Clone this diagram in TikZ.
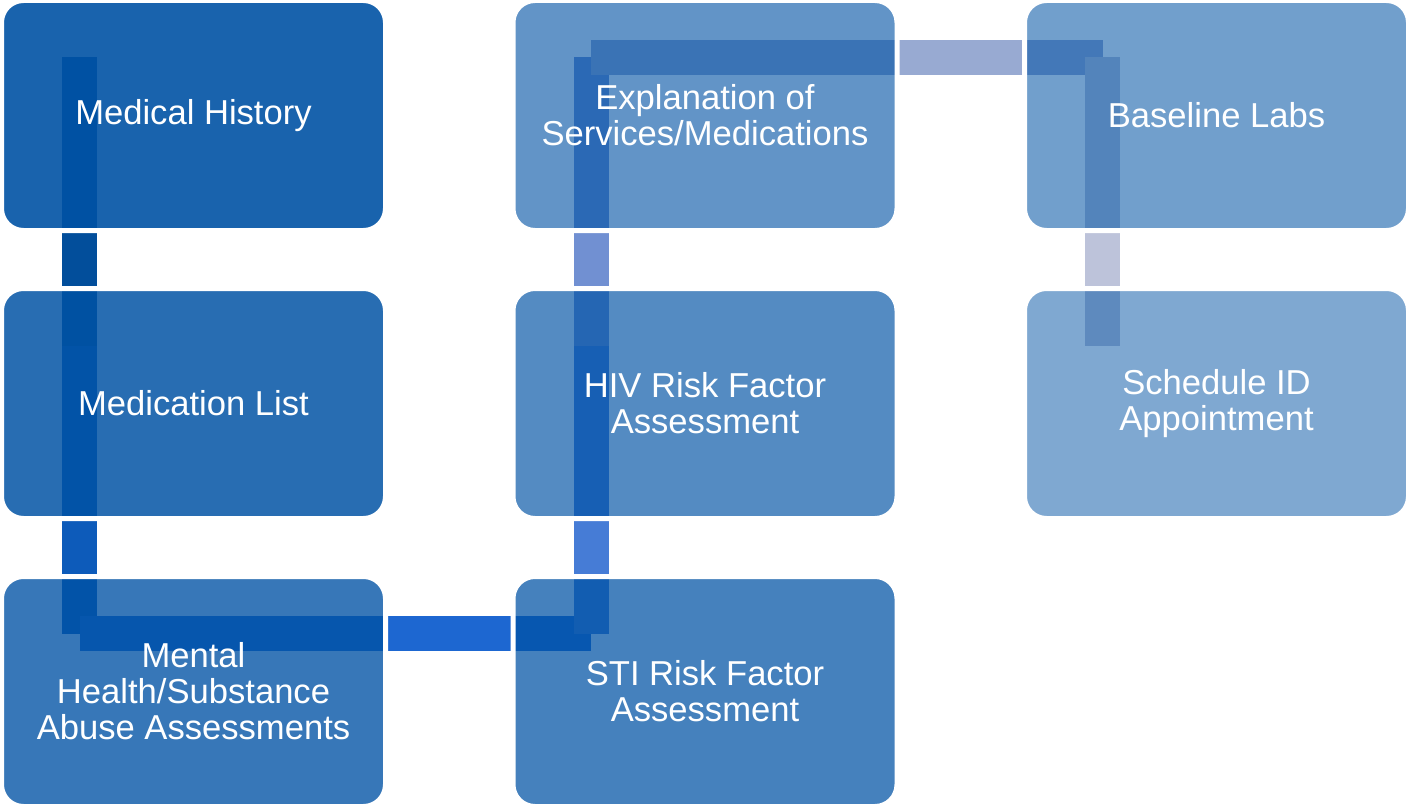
\documentclass[tikz,border=0pt]{standalone}
\usepackage{fontspec}
\setmainfont{Liberation Sans}
\usetikzlibrary{positioning,calc}
\pgfdeclarelayer{background}
\pgfsetlayers{background,main}
\definecolor{myblue}{RGB}{0,82,164}
\definecolor{mylinka}{RGB}{2,78,155}
\definecolor{mylinkb}{RGB}{13,91,186}
\definecolor{mylinkc}{RGB}{29,103,209}
\definecolor{mylinkd}{RGB}{70,124,214}
\definecolor{mylinke}{RGB}{113,144,210}
\definecolor{mylinkf}{RGB}{152,170,210}
\definecolor{mylinkg}{RGB}{189,195,218}
\tikzstyle{box}=[rectangle,rounded corners=11pt,fill=myblue,draw=white,line width=2.5pt,minimum width=192pt,minimum height=115pt,inner sep=0,outer sep=0,text=white,text opacity=1,align=center,font=\fontsize{17.3pt}{18pt}\selectfont]
\tikzstyle{link}=[line width=17.5pt,line cap=butt]

\begin{document}
\begin{tikzpicture}[
    node distance=144pt and 255.75pt,
    on grid]
\useasboundingbox (0,0) rectangle (704.5pt,-404pt);

% first column, going down
\node [box, fill opacity=0.9] (hist) at (96.75pt,-57.75pt) {Medical History};
\node [box, fill opacity=0.843] (meds) [below=of hist] {Medication List};
\node [box, fill opacity=0.786] (mental) [below=of meds] {Mental\\Health/Substance\\Abuse Assessments};

% second column, going up
\node [box, fill opacity=0.729] (sti) [right=of mental] {STI Risk Factor\\Assessment};
\node [box, fill opacity=0.671] (hiv) [above=of sti] {HIV Risk Factor\\Assessment};
\node [box, fill opacity=0.614] (expl) [above=of hiv] {Explanation of\\Services/Medications};

% third column
\node [box, fill opacity=0.557] (labs) [right=of expl] {Baseline Labs};
\node [box, fill opacity=0.5] (appt) [below=of labs] {Schedule ID\\Appointment};

\foreach \n in {hist,meds,mental,sti,hiv,expl,labs,appt}
    \coordinate (\n-p) at ($(\n.north west)+(39pt,-28.5pt)$);

% links behind the boxes
\begin{pgfonlayer}{background}
\begin{scope}[link]
    \draw [mylinka] (hist-p) -- (meds-p);
    \draw [mylinkb] (meds-p) -- (mental-p);
    \draw [mylinkc] (mental-p) -- (sti-p);
    \draw [mylinkd] (sti-p) -- (hiv-p);
    \draw [mylinke] (hiv-p) -- (expl-p);
    \draw [mylinkf] (expl-p) -- (labs-p);
    \draw [mylinkg] (labs-p) -- (appt-p);
\end{scope}
\end{pgfonlayer}

\end{tikzpicture}
\end{document}
